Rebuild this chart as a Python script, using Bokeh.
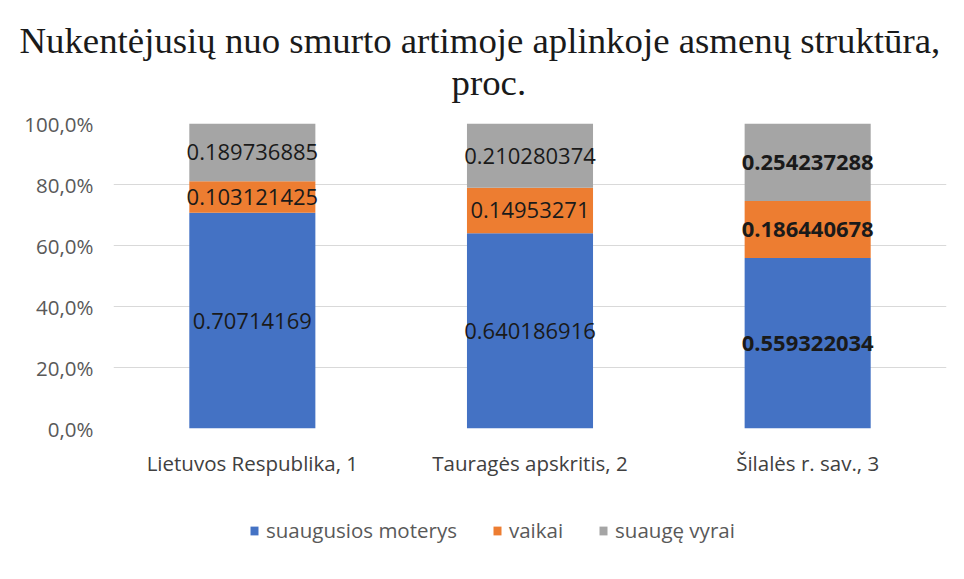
from bokeh.plotting import figure
from bokeh.layouts import column
from bokeh.models import (ColumnDataSource, FactorRange, FixedTicker, Legend, LegendItem, Title)
from bokeh.core.properties import value
from bokeh.embed import file_html
from bokeh.resources import INLINE

categories = ["Lietuvos Respublika, 1", "Tauragės apskritis, 2", "Šilalės r. sav., 3"]
series_names = ["suaugusios moterys", "vaikai", "suaugę vyrai"]
women = [0.70714169, 0.640186916, 0.559322034]
children = [0.103121425, 0.14953271, 0.186440678]
men = [0.189736885, 0.210280374, 0.254237288]
colors = ["#4472C4", "#ED7D31", "#A5A5A5"]
y_ticks = [0.0, 0.2, 0.4, 0.6, 0.8, 1.0]
y_tick_labels = ["0,0%", "20,0%", "40,0%", "60,0%", "80,0%", "100,0%"]
label_styles = ["normal", "normal", "bold"]
title_lines = ["Nukentėjusių nuo smurto artimoje aplinkoje asmenų struktūra,", "proc."]

LABEL_FONT = "Open Sans"
W = 948
BL, BR = 113, 2

src = ColumnDataSource(dict(cat=categories, women=women, children=children, men=men))
xr = FactorRange(*categories, range_padding=0)

# ---- main chart ----
p = figure(x_range=xr, y_range=(0, 1), width=W, height=484,
           output_backend="svg", toolbar_location=None,
           min_border_left=BL, min_border_right=BR, min_border_top=123, min_border_bottom=56)

renderers = p.vbar_stack(["women", "children", "men"], x="cat", width=0.454, source=src,
                         color=colors, line_color=None)

series = [women, children, men]
for i, vals in enumerate(series):
    bottoms = [sum(s[j] for s in series[:i]) for j in range(len(categories))]
    ys = [b + v / 2 for b, v in zip(bottoms, vals)]
    lsrc = ColumnDataSource(dict(x=categories, y=ys, t=[str(v) for v in vals], st=label_styles))
    p.text(x="x", y="y", text="t", source=lsrc, text_align="center", text_baseline="middle",
           text_font=value(LABEL_FONT), text_font_size="22px", text_color="#1a1a1a",
           text_font_style="st")

p.yaxis.ticker = FixedTicker(ticks=y_ticks)
p.yaxis.major_label_overrides = {t: l for t, l in zip(y_ticks, y_tick_labels)}
for ax in (p.xaxis[0], p.yaxis[0]):
    ax.axis_line_color = None
    ax.major_tick_line_color = None
    ax.minor_tick_line_color = None
    ax.major_tick_out = 0
    ax.major_tick_in = 0
    ax.major_label_text_font = LABEL_FONT
    ax.major_label_text_color = "#595959"
    ax.major_label_text_font_size = "20.5px"
p.yaxis.major_label_standoff = 20
p.xaxis.major_label_standoff = 20
p.xaxis.major_label_text_color = "#404040"

p.xgrid.grid_line_color = None
p.ygrid.grid_line_color = "#d9d9d9"
p.ygrid.grid_line_width = 1
p.outline_line_color = None

t2 = Title(text=title_lines[1], align="left", offset=338, text_font="Liberation Serif",
           text_font_size="36.8px", text_font_style="normal", text_color="#1a1a1a", standoff=42)
t1 = Title(text=title_lines[0], align="left", offset=-94, text_font="Liberation Serif",
           text_font_size="36.8px", text_font_style="normal", text_color="#1a1a1a", standoff=-44)
p.add_layout(t2, "above")
p.add_layout(t1, "above")

# ---- legend strip (same frame geometry, bars fall outside its y range) ----
lfig = figure(x_range=xr, y_range=(2, 3), width=W, height=79,
              output_backend="svg", toolbar_location=None,
              x_axis_location=None, y_axis_location=None,
              min_border_left=BL, min_border_right=BR, min_border_top=0, min_border_bottom=0)
lfig.xgrid.visible = False
lfig.ygrid.visible = False
lfig.outline_line_color = None
lrs = lfig.vbar_stack(["women", "children", "men"], x="cat", width=0.454, source=src,
                      color=colors, line_color=None)
legend = Legend(items=[LegendItem(label=n, renderers=[r]) for n, r in zip(series_names, lrs)],
                orientation="horizontal", location=(136, 19))
legend.label_text_font = LABEL_FONT
legend.label_text_font_size = "20.5px"
legend.label_text_color = "#595959"
legend.glyph_width = 10
legend.glyph_height = 11
legend.label_standoff = 7
legend.spacing = 35
legend.border_line_color = None
legend.background_fill_alpha = 0
legend.margin = 0
legend.padding = 0
lfig.add_layout(legend, "center")

layout = column(p, lfig, spacing=0)
open("out.html", "w").write(file_html(layout, INLINE))
